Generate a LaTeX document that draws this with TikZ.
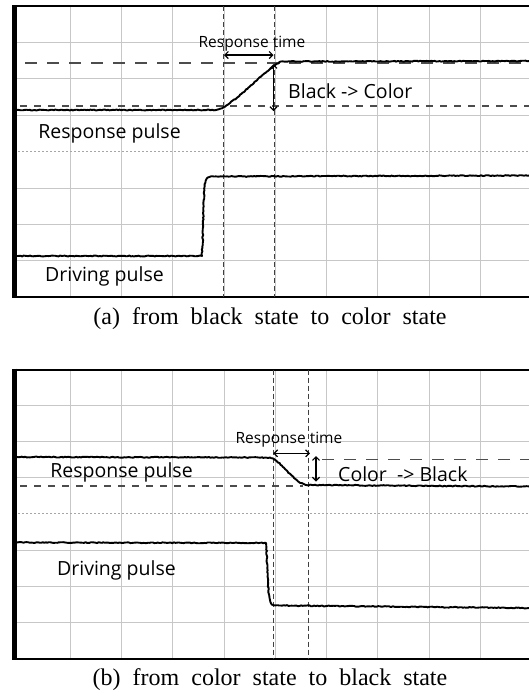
\documentclass[tikz,border=0pt]{standalone}
\usepackage{fontspec}
\setmainfont{Liberation Serif}
\newfontfamily\scopefont{Open Sans}
\usetikzlibrary{arrows.meta,decorations.pathmorphing}

\tikzset{
	gridline/.style={draw=black!22, line width=0.8pt},
	midline/.style={draw=black!35, line width=0.9pt, dash pattern=on 1.5pt off 2.5pt},
	frameline/.style={line width=2pt},
	leftedge/.style={line width=4.6pt},
	marker/.style={draw=black!75, line width=1pt, dash pattern=on 5pt off 3pt},
	levelhi/.style={draw=black!70, line width=1.1pt, dash pattern=on 12pt off 10pt},
	levello/.style={draw=black!70, line width=1.1pt, dash pattern=on 7pt off 7pt},
	trace/.style={line width=1.9pt, line join=round, decorate,
		decoration={random steps, segment length=1.6pt, amplitude=0.45pt}},
	span/.style={line width=1.2pt, {Straight Barb[length=3.5pt,width=7pt]}-{Straight Barb[length=3.5pt,width=7pt]}},
	lab/.style={inner sep=0pt, font=\scopefont\fontsize{19.5}{22}\selectfont},
	smalllab/.style={inner sep=0pt, font=\scopefont\fontsize{15.5}{18}\selectfont},
	caption/.style={inner sep=0pt, font=\fontsize{24}{28}\selectfont}
}

\begin{document}
\begin{tikzpicture}[x=1pt, y=-1pt]

	\useasboundingbox (0, 0) rectangle (529, 697);

	% panel (a): grid
		\draw[gridline](70.0, 6) to (70.0, 297);
		\draw[gridline](121.3, 6) to (121.3, 297);
		\draw[gridline](172.6, 6) to (172.6, 297);
		\draw[gridline](223.9, 6) to (223.9, 297);
		\draw[gridline](275.2, 6) to (275.2, 297);
		\draw[gridline](326.5, 6) to (326.5, 297);
		\draw[gridline](377.8, 6) to (377.8, 297);
		\draw[gridline](429.1, 6) to (429.1, 297);
		\draw[gridline](480.4, 6) to (480.4, 297);
		\draw[gridline](14, 42.4) to (529, 42.4);
		\draw[gridline](14, 78.8) to (529, 78.8);
		\draw[gridline](14, 115.2) to (529, 115.2);
		\draw[midline](14, 151.6) to (529, 151.6);
		\draw[gridline](14, 188.0) to (529, 188.0);
		\draw[gridline](14, 224.4) to (529, 224.4);
		\draw[gridline](14, 260.8) to (529, 260.8);
	\draw[frameline](12, 6) to (529, 6);
	\draw[frameline](12, 297) to (529, 297);
	\draw[leftedge](14.3, 5) to (14.3, 298);

	% panel (a): levels and markers
		\draw[levelhi](25, 63) to (529, 63);
		\draw[levello](20, 106) to (529, 106);
		\draw[marker](223.5, 6) to (223.5, 297);
		\draw[marker](274, 6) to (274, 297);

	% panel (a): traces
	\draw[trace](17, 110) to (216, 110) .. controls (231, 108) and (262, 72) .. (281, 61.5) to (529, 61);
	\draw[trace](17, 256) to (202, 256) .. controls (203.5, 230) and (203, 186) .. (206, 180) .. controls (208, 177) .. (214, 176.5) to (529, 175.5);

	% panel (a): spans and labels
	\coordinate (tA1) at (224, 55);
	\coordinate (tA2) at (273.5, 55);
	\coordinate (vA1) at (273.5, 64);
	\coordinate (vA2) at (273.5, 111);
	\draw[span](tA1) to (tA2);
	\draw[span](vA1) to (vA2);

	\node[smalllab] (timeA) at(252, 44){Response time};
	\node[lab, anchor=west] (stepA) at(288, 91){Black -> Color};
	\node[lab] (respA) at(109.5, 133){Response pulse};
	\node[lab] (driveA) at(104.5, 276){Driving pulse};
	\node[caption] (capA) at(270, 319){(a)\ \ from\ \ black\ \ state\ \ to\ \ color\ \ state};

	% panel (b): grid
		\draw[gridline](70.0, 369.5) to (70.0, 658.5);
		\draw[gridline](121.3, 369.5) to (121.3, 658.5);
		\draw[gridline](172.6, 369.5) to (172.6, 658.5);
		\draw[gridline](223.9, 369.5) to (223.9, 658.5);
		\draw[gridline](275.2, 369.5) to (275.2, 658.5);
		\draw[gridline](326.5, 369.5) to (326.5, 658.5);
		\draw[gridline](377.8, 369.5) to (377.8, 658.5);
		\draw[gridline](429.1, 369.5) to (429.1, 658.5);
		\draw[gridline](480.4, 369.5) to (480.4, 658.5);
		\draw[gridline](14, 405.6) to (529, 405.6);
		\draw[gridline](14, 441.7) to (529, 441.7);
		\draw[gridline](14, 477.8) to (529, 477.8);
		\draw[midline](14, 513.9) to (529, 513.9);
		\draw[gridline](14, 550.0) to (529, 550.0);
		\draw[gridline](14, 586.1) to (529, 586.1);
		\draw[gridline](14, 622.2) to (529, 622.2);
	\draw[frameline](12, 369.5) to (529, 369.5);
	\draw[frameline](12, 658.5) to (529, 658.5);
	\draw[leftedge](14.3, 368.5) to (14.3, 659.5);

	% panel (b): levels and markers
		\draw[levelhi](322, 459.3) to (529, 459.3);
		\draw[levello](20, 486) to (303, 486);
		\draw[marker](273.3, 369.5) to (273.3, 658.5);
		\draw[marker](308.3, 369.5) to (308.3, 658.5);

	% panel (b): traces
	\draw[trace](17, 457) to (270, 457.5) .. controls (281, 460) and (293, 483) .. (307, 485) to (529, 486.5);
	\draw[trace](17, 542.5) to (266, 543) .. controls (268, 570) and (267.5, 598) .. (271, 603) .. controls (273, 605.5) .. (279, 605.5) to (529, 608);

	% panel (b): spans and labels
	\coordinate (tB1) at (273.3, 453.3);
	\coordinate (tB2) at (310, 453.3);
	\coordinate (vB1) at (316, 456);
	\coordinate (vB2) at (316, 481.5);
	\draw[span](tB1) to (tB2);
	\draw[span](vB1) to (vB2);

	\node[smalllab] (timeB) at(289, 439.3){Response time};
	\node[lab, anchor=west] (stepB) at(338, 474){Color\ \ -> Black};
	\node[lab] (respB) at(121.5, 472.7){Response pulse};
	\node[lab] (driveB) at(116.5, 570){Driving pulse};
	\node[caption] (capB) at(270, 680){(b)\ \ from\ \ color\ \ state\ \ to\ \ black\ \ state};

\end{tikzpicture}
\end{document}
